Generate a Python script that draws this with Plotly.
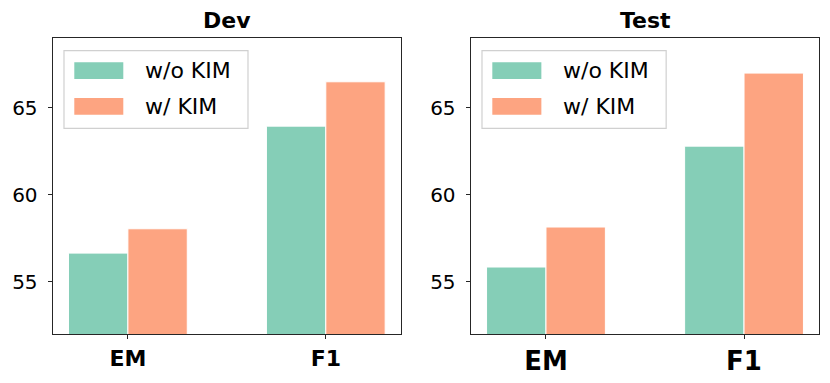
import plotly.graph_objects as go

# data
metrics = ["EM", "F1"]
dev_without = [56.65, 63.95]
dev_with = [58.05, 66.5]
test_without = [55.85, 62.8]
test_with = [58.15, 67.0]
series_names = ["w/o KIM", "w/ KIM"]
panel_titles = ["Dev", "Test"]

green = "#85ceb7"
orange = "#fda481"
font = "DejaVu Sans"

# the page body has an 8px margin, so the figure is drawn a bit smaller and shifted
OFF = 8
W, H = 830 - 2 * OFF, 383 - 2 * OFF
# axes boxes in window pixels (left, right, top, bottom)
boxes = [(52.7, 401.0, 38.3, 334.0), (470.7, 819.3, 38.3, 334.0)]

fig = go.Figure()

panels = [(dev_without, dev_with), (test_without, test_with)]
for i, (wo, w) in enumerate(panels):
    xa = "x" if i == 0 else "x2"
    ya = "y" if i == 0 else "y2"
    fig.add_trace(go.Bar(x=metrics, y=wo, name=series_names[0], marker_color=green,
                         marker_line=dict(color="white", width=1), xaxis=xa, yaxis=ya,
                         offsetgroup="a", showlegend=False))
    fig.add_trace(go.Bar(x=metrics, y=w, name=series_names[1], marker_color=orange,
                         marker_line=dict(color="white", width=1), xaxis=xa, yaxis=ya,
                         offsetgroup="b", showlegend=False))

axis_common = dict(showline=True, mirror=True, linecolor="#262626", linewidth=1.2,
                   ticks="outside", ticklen=4, tickcolor="#262626", showgrid=False,
                   zeroline=False, automargin=False)

for i, (l, r, t, b) in enumerate(boxes):
    sx = "" if i == 0 else "2"
    l, r, t, b = l - OFF, r - OFF, t - OFF, b - OFF
    xdom = [l / W, r / W]
    ydom = [1 - b / H, 1 - t / H]
    fig.update_layout(**{
        "xaxis" + sx: dict(domain=xdom, range=[-0.38, 1.38], anchor="y" + sx,
                           tickfont=dict(family=font, size=22 if i == 0 else 26, color="black",
                                         weight="bold"),
                           **axis_common),
        "yaxis" + sx: dict(domain=ydom, range=[52, 69], anchor="x" + sx,
                           tickvals=[55, 60, 65], ticklabelstandoff=6,
                           tickfont=dict(family=font, size=20, color="black"),
                           **axis_common),
    })
    # title
    fig.add_annotation(text="<b>" + panel_titles[i] + "</b>", x=(l + r) / 2 / W, y=1 - (20.5 - OFF) / H,
                       xref="paper", yref="paper", showarrow=False, xanchor="center", yanchor="middle",
                       font=dict(family=font, size=22, color="black"))
    # legend drawn in axis-domain coordinates
    xd = "x" + sx + " domain"
    yd = "y" + sx + " domain"
    fig.add_shape(type="rect", xref=xd, yref=yd, x0=0.0324, x1=0.5607, y0=0.6956, y1=0.958,
                  line=dict(color="#d0d0d0", width=1.2), fillcolor="rgba(255,255,255,0.8)", layer="above")
    for j, (col, yc) in enumerate([(green, 0.8906), (orange, 0.7698)]):
        fig.add_shape(type="rect", xref=xd, yref=yd, x0=0.062, x1=0.2027, y0=yc - 0.0285, y1=yc + 0.0285,
                      line=dict(width=0), fillcolor=col, layer="above")
        fig.add_annotation(text=series_names[j], xref=xd, yref=yd, x=0.26, y=yc,
                           xanchor="left", yanchor="middle", showarrow=False,
                           font=dict(family=font, size=22, color="black"))

fig.update_layout(width=W, height=H, margin=dict(l=0, r=0, t=0, b=0),
                  barmode="group", bargap=0.4, bargroupgap=0,
                  plot_bgcolor="white", paper_bgcolor="white",
                  font=dict(family=font, color="black"))

fig.write_html("out.html")
